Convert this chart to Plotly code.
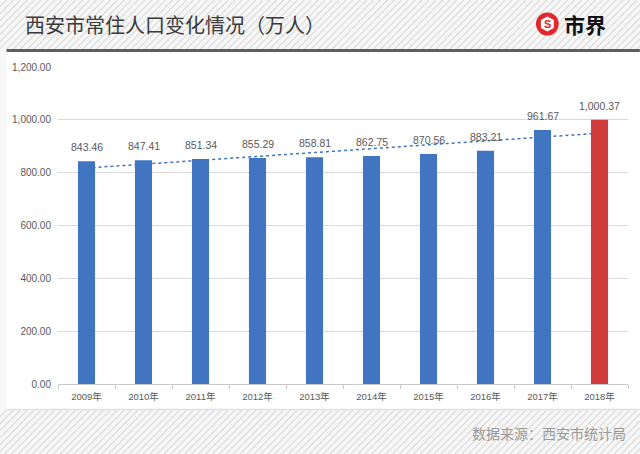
import plotly.graph_objects as go

# data
years = ["2009年", "2010年", "2011年", "2012年", "2013年",
         "2014年", "2015年", "2016年", "2017年", "2018年"]
population = [843.46, 847.41, 851.34, 855.29, 858.81,
              862.75, 870.56, 883.21, 961.67, 1000.37]
trend_years = ["2009年", "2018年"]
trend_values = [817.5, 949.5]
y_ticks = [0, 200, 400, 600, 800, 1000, 1200]

W, H = 640, 454
L, R, T, B = 52, 12, 67, 70
PW, PH = W - L - R, H - T - B

BLUE = "#4174c1"
RED = "#d03c3c"
FONT = "Liberation Sans, Noto Sans CJK SC, sans-serif"


def px(x):
    return (x - L) / PW


def py(y):
    return (H - B - y) / PH


def stripes(y_top, y_bot, step=7):
    h = y_bot - y_top
    parts = []
    x = -h
    while x < W + h:
        parts.append(f"M{px(x):.4f},{py(y_bot):.4f}L{px(x + h):.4f},{py(y_top):.4f}")
        x += step
    return "".join(parts)


bar_colors = [BLUE] * (len(years) - 1) + [RED]

fig = go.Figure()
fig.add_trace(go.Scatter(
    x=trend_years, y=trend_values, mode="lines",
    line=dict(color=BLUE, width=1.5, dash="dot"),
    hoverinfo="skip", showlegend=False,
))
fig.add_trace(go.Bar(
    x=years, y=population, yaxis="y2",
    marker=dict(color=bar_colors, line=dict(width=0)),
    showlegend=False,
))

shapes = [
    dict(type="path", xref="paper", yref="paper", layer="below",
         path=stripes(0, 49), line=dict(color="#e0e0e0", width=1.5)),
    dict(type="path", xref="paper", yref="paper", layer="below",
         path=stripes(410, 454), line=dict(color="#e0e0e0", width=1.5)),
    dict(type="rect", xref="paper", yref="paper", layer="below",
         x0=px(0), x1=px(W), y0=py(409), y1=py(52),
         fillcolor="white", line=dict(width=0)),
    dict(type="rect", xref="paper", yref="paper", layer="below",
         x0=px(0), x1=px(W), y0=py(52), y1=py(49),
         fillcolor="#5e5e5e", line=dict(width=0)),
    dict(type="line", xref="paper", yref="paper", layer="below",
         x0=px(0), x1=px(W), y0=py(409.5), y1=py(409.5),
         line=dict(color="#e2e2e2", width=1.5)),
    # logo
    dict(type="circle", xref="paper", yref="paper",
         x0=px(535), x1=px(558), y0=py(35.5), y1=py(12.5),
         fillcolor="#e3262b", line=dict(width=0)),
    dict(type="path", xref="paper", yref="paper",
         path=(f"M{px(546.5):.4f},{py(16.5):.4f}L{px(553):.4f},{py(20):.4f}"
               f"L{px(553):.4f},{py(28):.4f}L{px(546.5):.4f},{py(31.5):.4f}"
               f"L{px(540):.4f},{py(28):.4f}L{px(540):.4f},{py(20):.4f}Z"),
         fillcolor="white", line=dict(width=0)),
]

annotations = [
    dict(text="西安市常住人口变化情况（万人）", xref="paper", yref="paper",
         x=px(17), y=py(25), xanchor="left", yanchor="middle", showarrow=False,
         font=dict(family="Noto Sans CJK SC", size=20, color="#3a3a3a")),
    dict(text="<b>S</b>", xref="paper", yref="paper",
         x=px(546.5), y=py(24), xanchor="center", yanchor="middle", showarrow=False,
         font=dict(family="Liberation Sans", size=11, color="#e3262b")),
    dict(text="<b>市界</b>", xref="paper", yref="paper",
         x=px(561), y=py(24), xanchor="left", yanchor="middle", showarrow=False,
         font=dict(family="Noto Sans CJK SC", size=21, color="#111111")),
    dict(text="数据来源：西安市统计局", xref="paper", yref="paper",
         x=px(628), y=py(433), xanchor="right", yanchor="middle", showarrow=False,
         font=dict(family="Noto Sans CJK SC", size=14, color="#9a9a9a")),
]

# value labels above the bars
for yr, val in zip(years, population):
    annotations.append(dict(
        x=yr, y=val, xref="x", yref="y", text=f"{val:,.2f}",
        yanchor="bottom", yshift=6, showarrow=False,
        font=dict(size=10.5, color="#595959"),
    ))

fig.update_layout(
    width=W, height=H,
    margin=dict(l=L, r=R, t=T, b=B),
    paper_bgcolor="#f7f7f7",
    plot_bgcolor="white",
    font=dict(family=FONT, color="#595959"),
    bargap=0.7,
    shapes=shapes,
    annotations=annotations,
    xaxis=dict(
        type="category", categoryorder="array", categoryarray=years,
        showgrid=False, showline=True, linecolor="#c8c8c8",
        linewidth=1, ticks="outside", tickson="boundaries", ticklen=4,
        tickcolor="#c8c8c8", tickfont=dict(size=9.5, color="#595959"),
        ticklabelstandoff=4,
    ),
    yaxis=dict(
        range=[0, 1200], tickvals=y_ticks, tickformat=",.2f",
        showgrid=True, gridcolor="#d9d9d9", gridwidth=1, zeroline=False,
        showline=False, tickfont=dict(size=10, color="#595959"), ticks="",
        ticklabelstandoff=6,
    ),
    yaxis2=dict(
        range=[0, 1200], overlaying="y", visible=False,
    ),
)

fig.write_html("out.html", config={"displayModeBar": False},
               post_script="document.body.style.margin='0';")
